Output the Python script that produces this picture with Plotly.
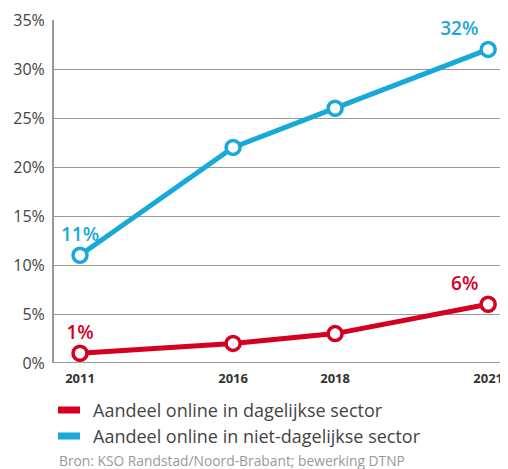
import plotly.graph_objects as go

years = ["2011", "2016", "2018", "2021"]
# slot positions on the axis (the chart spaces years unevenly: 1.5 : 1 : 1.5)
year_slots = [0, 3, 5, 8]
dagelijks = [1, 2, 3, 6]
niet_dagelijks = [11, 22, 26, 32]
label_dag = ["1%", "", "", "6%"]
label_niet = ["11%", "", "", "32%"]
y_ticks = [0, 5, 10, 15, 20, 25, 30, 35]
y_ticktext = [f"{v}%" for v in y_ticks]
series_names = ["Aandeel online in dagelijkse sector",
                "Aandeel online in niet-dagelijkse sector"]
source_text = "Bron: KSO Randstad/Noord-Brabant; bewerking DTNP"

RED = "#d5001f"
BLUE = "#19a9d9"
FONT = "Open Sans"

fig = go.Figure()

fig.add_trace(go.Scatter(
    x=year_slots, y=niet_dagelijks, mode="lines+markers+text",
    line=dict(color=BLUE, width=5),
    marker=dict(size=14, color="white", line=dict(color=BLUE, width=3.5)),
    text=label_niet, textposition=["top center", "top center", "top center", "top left"],
    textfont=dict(color=BLUE, size=19, family=FONT, weight=600),
    name=series_names[1], showlegend=False, cliponaxis=False, hoverinfo="skip"))

fig.add_trace(go.Scatter(
    x=year_slots, y=dagelijks, mode="lines+markers+text",
    line=dict(color=RED, width=5),
    marker=dict(size=14, color="white", line=dict(color=RED, width=3.5)),
    text=label_dag, textposition=["top center", "top center", "top center", "top left"],
    textfont=dict(color=RED, size=19, family=FONT, weight=600),
    name=series_names[0], showlegend=False, cliponaxis=False, hoverinfo="skip"))

# figure geometry (page body adds an 8px offset, so figure is 8px smaller)
W, H = 500, 461
ML, MR, MT, MB = 46, 2, 12, 106
PW, PH = W - ML - MR, H - MT - MB


def px(fx):
    return (fx - ML) / PW


def py(fy):
    return (H - MB - fy) / PH


shapes = []
annotations = []
legend_rows = [(series_names[0], RED, 402), (series_names[1], BLUE, 428)]
for name, col, fy in legend_rows:
    shapes.append(dict(type="line", xref="paper", yref="paper",
                       x0=px(50), x1=px(72), y0=py(fy), y1=py(fy),
                       line=dict(color=col, width=7)))
    annotations.append(dict(text=name, xref="paper", yref="paper",
                            x=px(83), y=py(fy), xanchor="left", yanchor="middle",
                            showarrow=False,
                            font=dict(size=18, color="#444", family=FONT)))

annotations.append(dict(text=source_text, xref="paper", yref="paper",
                        x=px(49), y=py(452), xanchor="left", yanchor="middle",
                        showarrow=False,
                        font=dict(size=13.8, color="#999", family=FONT)))

shapes.append(dict(type="line", xref="paper", yref="y", x0=0, x1=1, y0=0, y1=0,
                   line=dict(color="#999", width=2)))

fig.update_layout(
    width=W, height=H,
    margin=dict(l=ML, r=MR, t=MT, b=MB),
    paper_bgcolor="white", plot_bgcolor="white",
    font=dict(family=FONT, color="#444"),
    showlegend=False,
    xaxis=dict(range=[-0.51, 8.35], tickvals=year_slots, ticktext=years,
               showgrid=False, zeroline=False, showline=False,
               tickfont=dict(size=13, color="#333", family=FONT, weight=700), ticks="",
               ticklabelstandoff=6),
    yaxis=dict(range=[0, 35], tickvals=y_ticks, ticktext=y_ticktext,
               showgrid=True, gridcolor="#999", gridwidth=1.3,
               showline=True, linecolor="#999", linewidth=2, zeroline=False,
               tickfont=dict(size=16, color="#444", family=FONT), ticks="",
               ticklabelstandoff=4),
    annotations=annotations,
    shapes=shapes,
)

fig.write_html("out.html")
